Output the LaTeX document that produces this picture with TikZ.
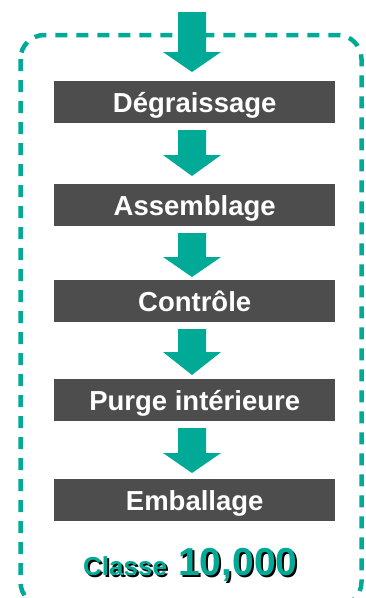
\documentclass[tikz,border=0pt]{standalone}
\usepackage{fontspec}
\setmainfont{Liberation Sans}
\definecolor{tealA}{RGB}{0,170,150}
\definecolor{boxgray}{RGB}{77,77,77}
\newcommand\fatarrow[4]{% x-center, shaft top, head start, tip
  \fill[tealA] (#1-14,#2) -- (#1+14,#2) -- (#1+14,#3) -- (#1+29,#3) -- (#1,#4) -- (#1-29,#3) -- (#1-14,#3) -- cycle;}
\begin{document}
\begin{tikzpicture}[x=1pt,y=-1pt,
  stepbox/.style={fill=boxgray, draw=none, minimum width=281pt, minimum height=42pt,
    inner sep=0pt, text height=20pt, text depth=0pt, anchor=north west,
    text=white, font=\bfseries\fontsize{27.5}{30}\selectfont},
  frame/.style={draw=tealA, line width=4.5pt, dash pattern=on 12pt off 9pt, rounded corners=24pt},
  classtext/.style={anchor=base west, inner sep=0pt, font=\bfseries\fontsize{26}{28}\selectfont},
  numtext/.style={anchor=base west, inner sep=0pt, font=\bfseries\fontsize{39}{42}\selectfont}]
\useasboundingbox (0,0) rectangle (365,598);
\clip (0,0) rectangle (365,598);
\draw[frame] (20.5,35) rectangle (361.5,606);
\node[stepbox] (b1) at (54,81) {Dégraissage};
\node[stepbox] (b2) at (54,184) {Assemblage};
\node[stepbox] (b3) at (54,280) {Contrôle};
\node[stepbox] (b4) at (54,379) {Purge intérieure};
\node[stepbox] (b5) at (54,479) {Emballage};
\fatarrow{192}{12}{52}{72}
\fatarrow{192}{130}{155}{176}
\fatarrow{192}{233}{257}{277}
\fatarrow{192}{329}{352}{375}
\fatarrow{192}{428}{453}{473}
\node[classtext, text=black] (c0) at (85,577) {Classe};
\node[classtext, text=tealA] (c1) at (83,575) {Classe};
\node[numtext, text=black] (n0) at (180,577) {10,000};
\node[numtext, text=tealA] (n1) at (178,575) {10,000};
\end{tikzpicture}
\end{document}
